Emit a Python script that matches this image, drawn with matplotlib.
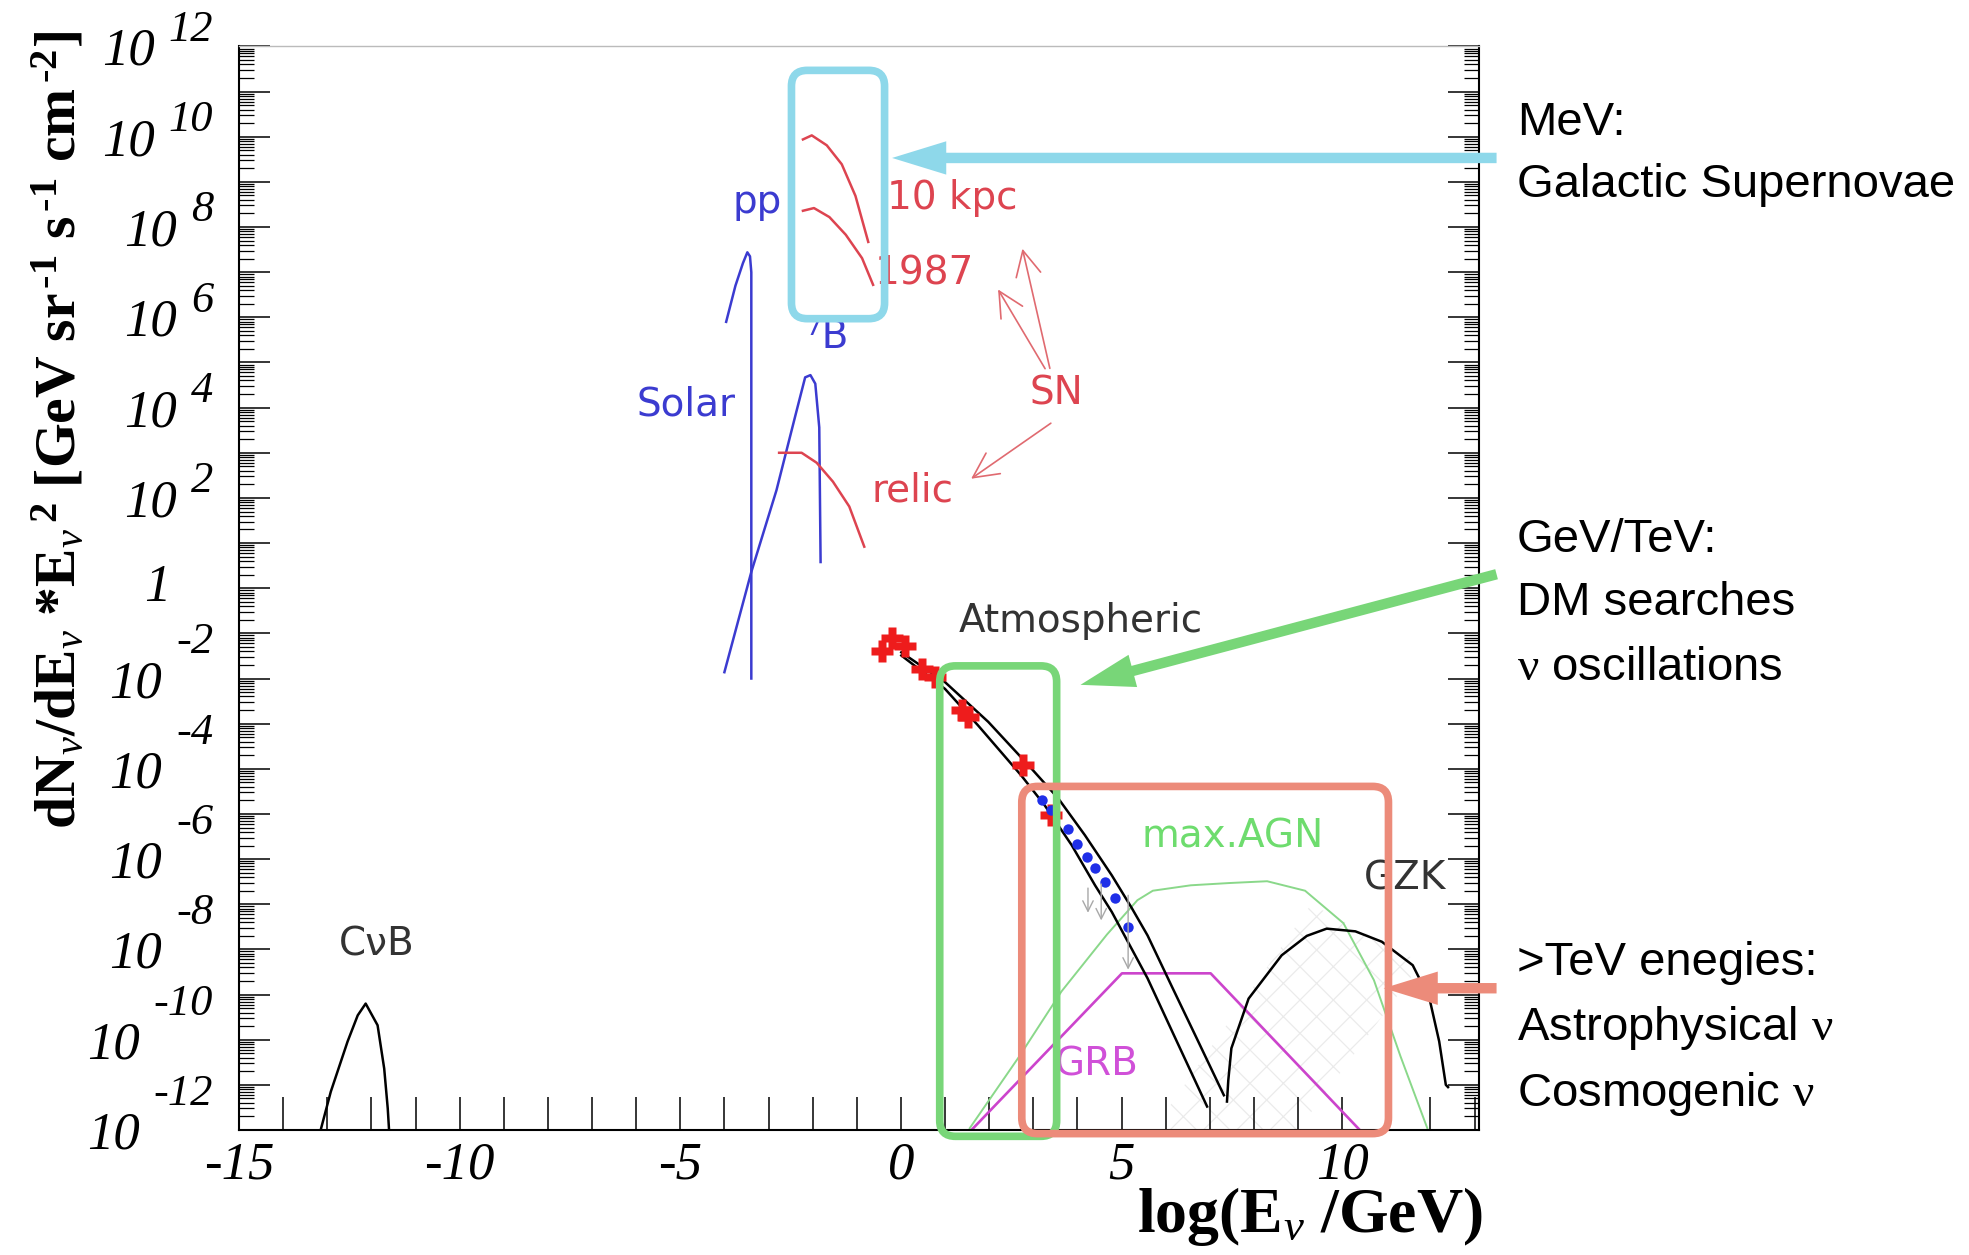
import numpy as np
import matplotlib
matplotlib.use("Agg")
import matplotlib.pyplot as plt
import matplotlib.transforms as mtransforms
from matplotlib.patches import FancyBboxPatch, FancyArrowPatch, Polygon
from matplotlib.ticker import LogLocator, NullFormatter

plt.rcParams['mathtext.fontset'] = 'custom'
plt.rcParams['mathtext.rm'] = 'Liberation Serif'
plt.rcParams['mathtext.it'] = 'Liberation Serif:italic'
plt.rcParams['mathtext.bf'] = 'Liberation Serif:bold'
plt.rcParams['hatch.linewidth'] = 0.9

# spectra: log10(E/GeV) and log10(flux)
cnb_x = [-13.15, -12.92, -12.54, -12.31, -12.13, -11.86, -11.71, -11.63, -11.6]
cnb_y = [-12.0, -11.15, -10.04, -9.46, -9.2, -9.68, -10.64, -11.52, -12.0]

pp_x = [-3.96, -3.75, -3.58, -3.48, -3.42, -3.39, -3.39]
pp_y = [5.9, 6.7, 7.2, 7.44, 7.35, 7.0, -2.0]

b8_x = [-4.0, -3.39, -2.82, -2.39, -2.17, -2.05, -1.94, -1.85, -1.82]
b8_y = [-1.86, 0.36, 2.17, 3.83, 4.67, 4.72, 4.53, 3.56, 0.58]

sn10_x = [-2.22, -2.02, -1.68, -1.34, -1.03, -0.74]
sn10_y = [9.94, 10.03, 9.81, 9.39, 8.69, 7.67]
sn87_x = [-2.22, -1.97, -1.62, -1.25, -0.88, -0.63]
sn87_y = [8.36, 8.42, 8.22, 7.83, 7.31, 6.72]
relic_x = [-2.76, -2.25, -1.91, -1.54, -1.17, -0.83]
relic_y = [3.0, 3.0, 2.78, 2.36, 1.81, 0.92]

atm_hi_x = [0.01, 1.0, 1.98, 2.89, 3.57, 4.17, 4.78, 5.23, 5.59, 6.14, 6.7, 7.32]
atm_hi_y = [-1.42, -2.08, -2.96, -3.92, -4.66, -5.47, -6.36, -7.08, -7.69, -8.82, -9.96, -11.23]
atm_lo_x = [0.01, 1.0, 1.75, 2.73, 3.26, 3.87, 4.40, 4.78, 5.59, 6.14, 6.94]
atm_lo_y = [-1.49, -2.23, -3.04, -4.15, -4.81, -5.69, -6.58, -7.17, -8.64, -9.8, -11.48]

atm_data_x = [-0.42, -0.21, 0.09, 0.47, 0.77, 1.39, 1.52, 2.77, 3.41]
atm_data_y = [-1.40, -1.11, -1.28, -1.79, -1.97, -2.70, -2.85, -3.92, -5.03]

ic_x = [3.19, 3.41, 3.79, 4.0, 4.21, 4.41, 4.63, 4.85, 5.15]
ic_y = [-4.70, -4.92, -5.34, -5.66, -5.95, -6.19, -6.50, -6.87, -7.50]

lim_x = [4.24, 4.54, 5.15]
lim_top = [-6.58, -6.49, -6.74]
lim_bot = [-7.25, -7.42, -8.51]

agn_x = [1.56, 2.69, 3.64, 4.67, 5.36, 5.71, 6.57, 7.44, 8.30, 9.16, 10.03, 10.72, 11.32, 11.93]
agn_y = [-11.96, -10.36, -8.93, -7.67, -6.91, -6.70, -6.58, -6.53, -6.49, -6.70, -7.42, -8.68, -10.36, -11.96]

grb_x = [1.6, 5.01, 7.02, 10.4]
grb_y = [-12.0, -8.53, -8.53, -12.0]

gzk_x = [7.39, 7.42, 7.49, 7.88, 8.63, 9.2, 9.65, 10.3, 10.9, 11.6, 11.98, 12.2, 12.35, 12.4]
gzk_y = [-11.37, -10.9, -10.19, -9.09, -8.13, -7.7, -7.54, -7.6, -7.83, -8.35, -9.09, -10.04, -11.0, -11.05]

gzk_band_x = [6.0, 9.3, 11.8, 9.0, 6.0]
gzk_band_y = [-11.6, -7.0, -8.3, -12.0, -12.0]

ytick_exps = [12, 10, 8, 6, 4, 2, 0, -2, -4, -6, -8, -10, -12]
xtick_vals = list(range(-15, 14))


def p(v):
    return 10.0 ** np.asarray(v, dtype=float)


fig = plt.figure(figsize=(19.69, 12.55), dpi=100)
ax = fig.add_axes([0.1214, 0.0996, 0.6297, 0.8634])
ax.set_yscale('log')
ax.set_xlim(-15.0, 13.1)
ax.set_ylim(1e-12, 1e12)

blue = '#3b3bd0'
red = '#dd4450'
lw = 1.8

ax.add_patch(Polygon(np.column_stack([gzk_band_x, p(gzk_band_y)]), closed=True,
                     fill=False, hatch='x', edgecolor='#ebebeb', lw=0))

ax.plot(cnb_x, p(cnb_y), color='black', lw=lw)
ax.plot(pp_x, p(pp_y), color=blue, lw=lw)
ax.plot(b8_x, p(b8_y), color=blue, lw=lw)
ax.plot(sn10_x, p(sn10_y), color=red, lw=lw)
ax.plot(sn87_x, p(sn87_y), color=red, lw=lw)
ax.plot(relic_x, p(relic_y), color=red, lw=lw)
ax.plot(agn_x, p(agn_y), color='#8ad88a', lw=1.4)
ax.plot(grb_x, p(grb_y), color='#cc44cc', lw=1.9)
ax.plot(gzk_x, p(gzk_y), color='black', lw=lw)
ax.plot(atm_hi_x, p(atm_hi_y), color='black', lw=lw)
ax.plot(atm_lo_x, p(atm_lo_y), color='black', lw=lw)
ax.plot(atm_data_x, p(atm_data_y), ls='none', marker='P', ms=16, color='#ee1c1c', mec='none')
ax.plot(ic_x, p(ic_y), ls='none', marker='o', ms=7.5, color='#1f2fe8', mec='none')
for x, t, b in zip(lim_x, lim_top, lim_bot):
    ax.annotate('', xy=(x, p(b)), xytext=(x, p(t)),
                arrowprops=dict(arrowstyle='->,head_length=0.5,head_width=0.25',
                                color='#a8a8a8', lw=1.0, mutation_scale=15))

# curve labels
lab = dict(family='DejaVu Sans', fontsize=28, ha='center', va='center')
ax.text(-11.88, p(-7.89), 'C\u03bdB', color='#333333', **lab)
ax.text(-3.25, p(8.56), 'pp', color=blue, **lab)
ax.text(-1.68, p(5.56), '\u2077B', color=blue, **lab)
ax.text(-4.87, p(4.08), 'Solar', color=blue, **lab)
ax.text(1.17, p(8.64), '10 kpc', color=red, **lab)
ax.text(0.54, p(6.97), '1987', color=red, **lab)
ax.text(3.53, p(4.31), 'SN', color=red, **lab)
ax.text(0.26, p(2.17), 'relic', color=red, **lab)
ax.text(4.07, p(-0.72), 'Atmospheric', color='#333333', **lab)
ax.text(7.52, p(-5.5), 'max.AGN', color='#6edc6e', **lab)
ax.text(11.42, p(-6.44), 'GZK', color='#333333', **lab)
ax.text(4.44, p(-10.56), 'GRB', color='#d050d8', **lab)

sn_arrows = [((3.39, 4.81), (2.74, 7.58)), ((3.30, 4.81), (2.17, 6.67)), ((3.45, 3.69), (1.54, 2.39))]
for (tx, ty), (hx, hy) in sn_arrows:
    ax.annotate('', xy=(hx, p(hy)), xytext=(tx, p(ty)),
                arrowprops=dict(arrowstyle='->,head_length=0.9,head_width=0.45',
                                color='#e06a70', lw=1.2, mutation_scale=20))

# axes styling
for s in ['left', 'bottom', 'right']:
    ax.spines[s].set_linewidth(1.5)
ax.spines['top'].set_color('#bbbbbb')
ax.spines['top'].set_linewidth(1.0)

ax.yaxis.set_major_locator(LogLocator(base=10, numticks=40))
ax.yaxis.set_minor_locator(LogLocator(base=10, subs=np.arange(2, 10), numticks=40))
ax.yaxis.set_major_formatter(NullFormatter())
ax.yaxis.set_minor_formatter(NullFormatter())
ax.tick_params(axis='y', which='major', direction='in', length=22, width=1.1,
               left=True, right=True, labelleft=False)
ax.tick_params(axis='y', which='minor', direction='in', length=11, width=0.9,
               left=True, right=True)
ax.set_xticks(xtick_vals, labels=[str(v) if v % 5 == 0 else '' for v in xtick_vals],
              fontstyle='italic', family='Liberation Serif', fontsize=38)
ax.tick_params(axis='x', direction='in', length=24, width=1.1, pad=8, top=False)

# y tick labels: "10" with a raised exponent
ytrans = ax.get_yaxis_transform()
for k in ytick_exps:
    if k == 0:
        ax.text(-0.066, 1.0, '1', transform=ytrans, ha='center', va='center',
                fontsize=38, style='italic', family='Liberation Serif')
        continue
    up = 12 if k > 0 else 26
    off = mtransforms.offset_copy(ytrans, fig=fig, x=0, y=up, units='points')
    e = ax.text(-0.021, 10.0 ** k, str(k), transform=off, ha='right', va='center',
                fontsize=32, style='italic', family='Liberation Serif')
    ax.annotate('10', xy=(0, 0.5), xycoords=e, xytext=(-10, -(up + 4)),
                textcoords='offset points', ha='right', va='center',
                fontsize=38, style='italic', family='Liberation Serif')

fig.text(0.665, 0.031, r'log(E$_{\nu}$ /GeV)', ha='center', va='center',
         fontsize=46, weight='bold', family='Liberation Serif')
fig.text(0.030, 0.657,
         'dN$_{\\nu}$/dE$_{\\nu}$ *E$_{\\nu}$$^{\\,\\mathbf{2}}$ [GeV sr$^{\\,\\mathbf{\u20101}}$ '
         's$^{\\,\\mathbf{\u20101}}$ cm$^{\\,\\mathbf{\u20102}}$]',
         rotation=90, ha='center', va='center', fontsize=41.5, weight='bold',
         family='Liberation Serif')


# highlight boxes and arrows, positioned from data coordinates
def to_fig(x, logy):
    d = ax.transData.transform((x, 10.0 ** logy))
    return fig.transFigure.inverted().transform(d)


boxes = [((-2.48, 5.97), (-0.37, 11.47), '#8ed8ea'),
         ((0.88, -12.14), (3.53, -1.72), '#78d678'),
         ((2.74, -12.08), (11.05, -4.39), '#ec8b7a')]
for (x0, y0), (x1, y1), c in boxes:
    a = to_fig(x0, y0)
    b = to_fig(x1, y1)
    fig.add_artist(FancyBboxPatch(a, b[0] - a[0], b[1] - a[1],
                                  boxstyle='round,pad=0,rounding_size=0.008',
                                  mutation_aspect=1969 / 1255, transform=fig.transFigure,
                                  fill=False, ec=c, lw=5.5))

arrows = [((13.5, 9.53), (-0.2, 9.53), '#8ed8ea'),
          ((13.5, 0.31), (4.07, -2.14), '#78d678'),
          ((13.5, -8.86), (10.94, -8.86), '#ec8b7a')]
for tail, tip, c in arrows:
    fig.add_artist(FancyArrowPatch(to_fig(*tail), to_fig(*tip), transform=fig.transFigure,
                                   arrowstyle='simple,head_length=3.9,head_width=2.4,tail_width=0.75',
                                   mutation_scale=10, color=c, lw=0, shrinkA=0, shrinkB=0))

side = dict(family='Liberation Sans', fontsize=34, ha='left', va='center')
nu = r'$\mathrm{\nu}$'
side_lines = [(98, 'MeV:'), (147, 'Galactic Supernovae'),
              (430, 'GeV/TeV:'), (480, 'DM searches'), (532, nu + ' oscillations'),
              (767, '>TeV enegies:'), (819, 'Astrophysical ' + nu), (871, 'Cosmogenic ' + nu)]
for yy, t in side_lines:
    fig.text(0.7704, 1 - yy / 999.4, t, **side)

fig.savefig('out.png', dpi=100)
